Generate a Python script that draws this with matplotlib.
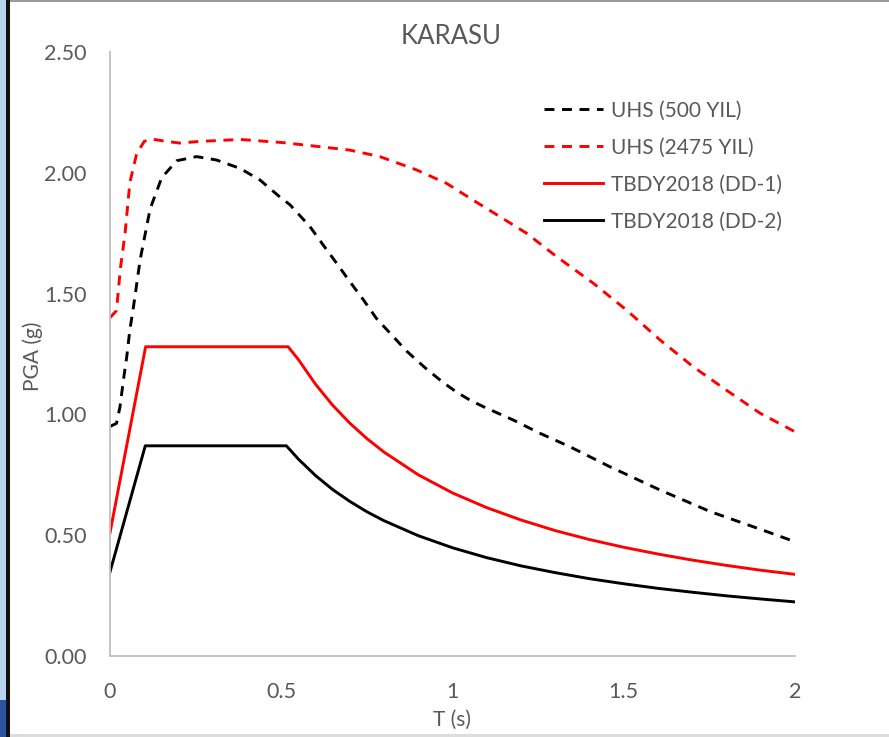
import matplotlib
matplotlib.use("Agg")
import matplotlib.pyplot as plt
from matplotlib.patches import Rectangle

plt.rcParams["font.family"] = ["Lato", "DejaVu Sans"]

TEXT_GRAY = "#595959"
AXIS_GRAY = "#bfbfbf"

# UHS (500 YIL)
uhs500_t = [0, 0.019, 0.029, 0.039, 0.049, 0.058, 0.068, 0.088, 0.117, 0.151, 0.195,
            0.253, 0.311, 0.38, 0.438, 0.496, 0.526, 0.584, 0.623, 0.662, 0.70, 0.74,
            0.778, 0.827, 0.866, 0.924, 0.97, 1.012, 1.05, 1.09, 1.177, 1.255, 1.343,
            1.46, 1.606, 1.752, 1.898, 2.0]
uhs500_sa = [0.95, 0.963, 1.03, 1.14, 1.24, 1.35, 1.44, 1.64, 1.85, 1.98, 2.05,
             2.067, 2.053, 2.018, 1.97, 1.90, 1.867, 1.777, 1.70, 1.625, 1.55, 1.474,
             1.397, 1.322, 1.262, 1.188, 1.135, 1.092, 1.060, 1.032, 0.977, 0.922, 0.866,
             0.783, 0.687, 0.598, 0.525, 0.473]

# UHS (2475 YIL)
uhs2475_t = [0, 0.019, 0.03, 0.044, 0.058, 0.078, 0.10, 0.12, 0.165, 0.204, 0.263,
             0.38, 0.505, 0.6, 0.70, 0.788, 0.895, 0.983, 1.06, 1.139, 1.216, 1.304,
             1.411, 1.508, 1.606, 1.703, 1.80, 1.898, 2.0]
uhs2475_sa = [1.40, 1.43, 1.60, 1.75, 1.96, 2.08, 2.13, 2.14, 2.13, 2.123, 2.13,
              2.138, 2.125, 2.11, 2.094, 2.067, 2.012, 1.956, 1.887, 1.818, 1.75, 1.653,
              1.543, 1.432, 1.308, 1.197, 1.10, 1.005, 0.928]

# TBDY2018 spectra
dd1_t = [0, 0.104, 0.52, 0.55, 0.6, 0.65, 0.7, 0.75, 0.8, 0.9, 1.0, 1.1, 1.2, 1.3,
         1.4, 1.5, 1.6, 1.7, 1.8, 1.9, 2.0]
dd1_sa = [0.51, 1.28, 1.28, 1.227, 1.125, 1.038, 0.964, 0.900, 0.844, 0.750, 0.675,
          0.614, 0.563, 0.519, 0.482, 0.450, 0.422, 0.397, 0.375, 0.355, 0.338]

dd2_t = [0, 0.103, 0.515, 0.55, 0.6, 0.65, 0.7, 0.75, 0.8, 0.9, 1.0, 1.1, 1.2, 1.3,
         1.4, 1.5, 1.6, 1.7, 1.8, 1.9, 2.0]
dd2_sa = [0.348, 0.87, 0.87, 0.815, 0.747, 0.689, 0.640, 0.597, 0.560, 0.498, 0.448,
          0.407, 0.373, 0.345, 0.320, 0.299, 0.280, 0.264, 0.249, 0.236, 0.224]

x_ticks = [0, 0.5, 1, 1.5, 2]
x_tick_labels = ["0", "0.5", "1", "1.5", "2"]
y_ticks = [0.0, 0.5, 1.0, 1.5, 2.0, 2.5]

W, H = 889, 737


def fx(px):
    return px / W


def fy(py):
    return 1 - py / H


fig = plt.figure(figsize=(W / 100, H / 100), dpi=100)
fig.patch.set_facecolor("white")

# screenshot frame bits
fig.add_artist(Rectangle((0, 0), fx(6), 1, transform=fig.transFigure, color="#b9d4ee", lw=0))
fig.add_artist(Rectangle((0, 0), fx(6), fy(700), transform=fig.transFigure, color="#2b559e", lw=0))
fig.add_artist(Rectangle((fx(6), 0), fx(4), 1, transform=fig.transFigure, color="#111111", lw=0))
fig.add_artist(Rectangle((fx(10), fy(2)), 1, 2 / H, transform=fig.transFigure, color="#9a9a9a", lw=0))
fig.add_artist(Rectangle((fx(10), 0), 1, 3 / H, transform=fig.transFigure, color="#dcdcdc", lw=0))

ax = fig.add_axes([fx(110), fy(656), fx(795) - fx(110), fy(52) - fy(656)])
ax.set_facecolor("none")

dash = (0, (3.4, 2.6))
lw = 2.1
ax.plot(uhs500_t, uhs500_sa, color="black", lw=lw, ls=dash, label="UHS (500 YIL)")
ax.plot(uhs2475_t, uhs2475_sa, color="#ff0000", lw=lw, ls=dash, label="UHS (2475 YIL)")
ax.plot(dd1_t, dd1_sa, color="#ff0000", lw=lw, label="TBDY2018 (DD-1)")
ax.plot(dd2_t, dd2_sa, color="black", lw=lw, label="TBDY2018 (DD-2)")

ax.set_xlim(0, 2)
ax.set_ylim(0, 2.5)
ax.set_xticks(x_ticks)
ax.set_xticklabels(x_tick_labels)
ax.set_yticks(y_ticks)
ax.set_yticklabels([f"{v:.2f}" for v in y_ticks])
ax.tick_params(axis="both", length=0, colors=TEXT_GRAY, labelsize=15.5)
ax.tick_params(axis="y", pad=17)
ax.tick_params(axis="x", pad=19)

for side in ["top", "right"]:
    ax.spines[side].set_visible(False)
for side in ["left", "bottom"]:
    ax.spines[side].set_color(AXIS_GRAY)
    ax.spines[side].set_linewidth(1.3)

fig.text(fx(451), fy(37), "KARASU", ha="center", va="center", fontsize=18.5, color=TEXT_GRAY)
fig.text(fx(452), fy(720), "T (s)", ha="center", va="center", fontsize=15, color=TEXT_GRAY)
fig.text(fx(33), fy(356), "PGA (g)", ha="center", va="center", rotation=90, fontsize=15,
         color=TEXT_GRAY)

leg = ax.legend(loc="upper left", bbox_to_anchor=(fx(534), fy(90)),
                bbox_transform=fig.transFigure, frameon=False, fontsize=15,
                handlelength=2.8, handletextpad=0.4, labelspacing=0.82, borderpad=0)
for t in leg.get_texts():
    t.set_color(TEXT_GRAY)

fig.savefig("out.png", dpi=100)
